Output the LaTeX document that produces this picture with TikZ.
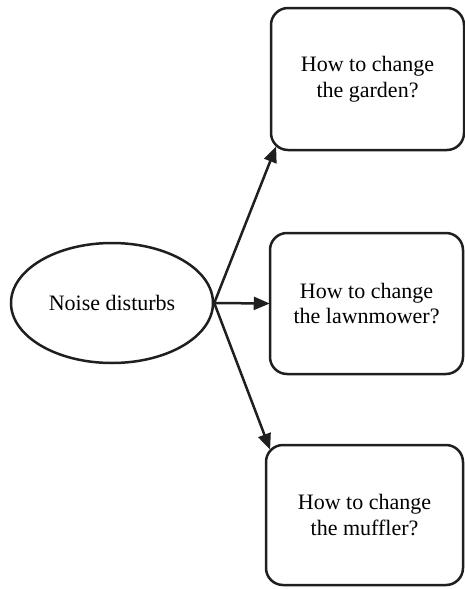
\documentclass[tikz,border=0pt]{standalone}
\usepackage{fontspec}
\setmainfont{Liberation Serif}
\usetikzlibrary{arrows.meta,shapes.geometric}

\tikzset{
  question/.style={draw=black!88, line width=2.5pt, rounded corners=17pt,
    align=center, inner sep=0pt, font=\fontsize{22}{25.5}\selectfont},
  problem/.style={draw=black!88, line width=2.5pt, ellipse, inner sep=0pt,
    minimum width=202pt, minimum height=120pt, font=\fontsize{22}{25.5}\selectfont},
  link/.style={draw=black!88, line width=2.5pt,
    -{Triangle[length=16pt,width=13pt]}, shorten >=-1pt}
}

\begin{document}
\begin{tikzpicture}[x=1pt,y=-1pt]
  \useasboundingbox (0,0) rectangle (465,589);

  % cause on the left
  \node[problem] (noise) at (112,303) {Noise disturbs};

  % three possible changes
  \node[question, minimum width=193pt, minimum height=142pt] (garden) at (367.5,79)
    {How to change\\the garden?};
  \node[question, minimum width=193pt, minimum height=141pt] (mower) at (366.5,303.5)
    {How to change\\the lawnmower?};
  \node[question, minimum width=197pt, minimum height=140pt] (muffler) at (364.5,515)
    {How to change\\the muffler?};

  % end points on the rounded corners
  \coordinate (gtip) at ([shift={(6,-4)}]garden.south west);
  \coordinate (mtip) at ([shift={(5,5)}]muffler.north west);

  \draw[link] (noise.east) -- (gtip);
  \draw[link] (noise.east) -- (mower.west);
  \draw[link] (noise.east) -- (mtip);
\end{tikzpicture}
\end{document}
